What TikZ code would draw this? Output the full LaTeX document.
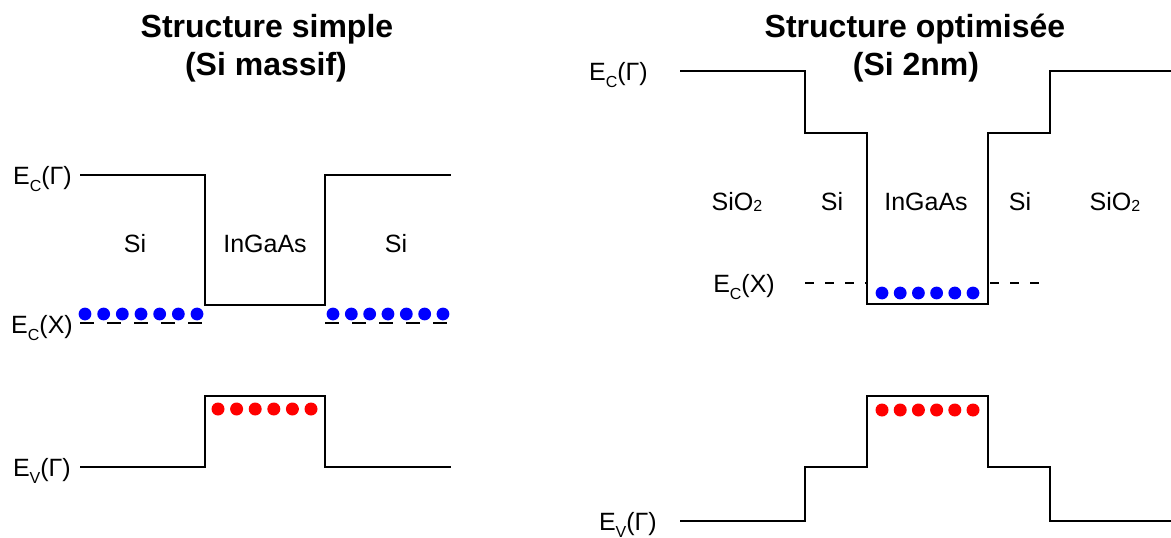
\documentclass[tikz,border=0pt]{standalone}
\usepackage{fontspec}
\setmainfont{Liberation Sans}
\newcommand{\Esub}[1]{E\raisebox{-7pt}{\fontsize{16}{16}\selectfont #1}}
\newcommand{\subtwo}{\raisebox{-1pt}{\fontsize{16}{16}\selectfont 2}}
\tikzset{
  band/.style={line width=2.2pt, black, line join=miter},
  xlevel/.style={line width=2pt, black, dash pattern=on 14pt off 13pt},
  xlevelr/.style={line width=2pt, black, dash pattern=on 9pt off 11pt},
  lab/.style={inner sep=0pt, font=\fontsize{25}{25}\selectfont},
  ttl/.style={inner sep=0pt, anchor=base, font=\fontsize{32}{32}\selectfont\bfseries},
  edot/.style={circle, fill=blue, draw=none, minimum size=12.8pt, inner sep=0pt},
  hdot/.style={circle, fill=red, draw=none, minimum size=13pt, inner sep=0pt}
}
\begin{document}
\begin{tikzpicture}[x=1pt, y=-1pt]
\useasboundingbox (0,0) rectangle (1171,538);
\fill[white] (0,0) rectangle (1171,538);

% titles
\node[ttl] (t1a) at (267,37) {Structure simple};
\node[ttl] (t1b) at (266,75) {(Si massif)};
\node[ttl] (t2a) at (915,37) {Structure optimisée};
\node[ttl] (t2b) at (916,75) {(Si 2nm)};

% ---------- left panel ----------
\draw[band] (80,175) -- (205,175) -- (205,305) -- (325,305) -- (325,175) -- (451,175);
\draw[band] (80,467) -- (205,467) -- (205,396) -- (325,396) -- (325,467) -- (451,467);
\draw[xlevel] (80,323) -- (205,323);
\draw[xlevel] (325,323) -- (451,323);

\node[lab, anchor=base east] (lecg) at (72,184) {\Esub{C}(Γ)};
\node[lab, anchor=base east] (lecx) at (73,333) {\Esub{C}(X)};
\node[lab, anchor=base east] (levg) at (71,476) {\Esub{V}(Γ)};

\node[lab, anchor=base] (lsi1) at (135,252) {Si};
\node[lab, anchor=base] (lin) at (265,252) {InGaAs};
\node[lab, anchor=base] (lsi2) at (396,252) {Si};

\foreach \i in {0,...,6} {
  \node[edot] (le\i) at (85+\i*18.67,314) {};
  \node[edot] (re\i) at (333+\i*18.33,314) {};
}
\foreach \i in {0,...,5} {
  \node[hdot] (lh\i) at (218+\i*18.6,409) {};
}

% ---------- right panel ----------
\draw[band] (680,71) -- (805,71) -- (805,133) -- (867,133) -- (867,304) -- (988,304)
  -- (988,133) -- (1050,133) -- (1050,71) -- (1172,71);
\draw[band] (680,521) -- (805,521) -- (805,467) -- (867,467) -- (867,396) -- (988,396)
  -- (988,467) -- (1050,467) -- (1050,521) -- (1172,521);
\draw[xlevelr] (805,283) -- (867,283);
\draw[xlevelr] (990,283) -- (1050,283);

\node[lab, anchor=base east] (recg) at (648,80) {\Esub{C}(Γ)};
\node[lab, anchor=base east] (recx) at (775,292) {\Esub{C}(X)};
\node[lab, anchor=base east] (revg) at (657,530) {\Esub{V}(Γ)};

\node[lab, anchor=base] (rox1) at (737,210) {SiO\subtwo};
\node[lab, anchor=base] (rsi1) at (832,210) {Si};
\node[lab, anchor=base] (rin) at (926,210) {InGaAs};
\node[lab, anchor=base] (rsi2) at (1020,210) {Si};
\node[lab, anchor=base] (rox2) at (1115,210) {SiO\subtwo};

\foreach \i in {0,...,5} {
  \node[edot] (we\i) at (882+\i*18.2,293) {};
  \node[hdot] (wh\i) at (882+\i*18.2,410) {};
}
\end{tikzpicture}
\end{document}
